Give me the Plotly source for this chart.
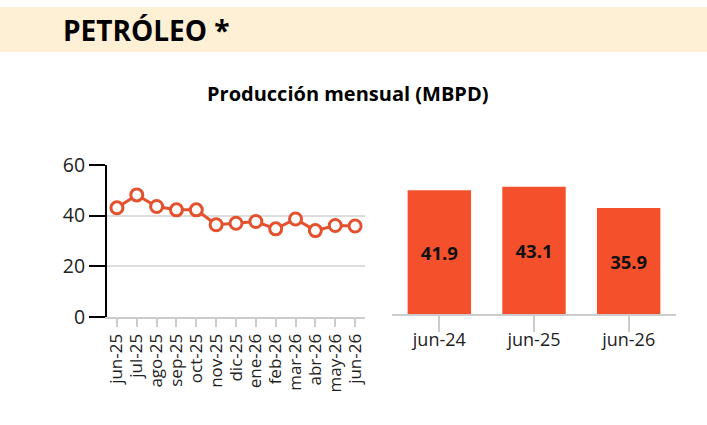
import plotly.graph_objects as go

W, H = 707, 425

months = ["jun-25", "jul-25", "ago-25", "sep-25", "oct-25", "nov-25", "dic-25",
          "ene-26", "feb-26", "mar-26", "abr-26", "may-26", "jun-26"]
monthly = [43.1, 48.2, 43.6, 42.3, 42.3, 36.4, 37.0, 37.7, 34.8, 38.7, 34.1, 36.1, 35.9]

years = ["jun-24", "jun-25", "jun-26"]
yearly = [41.9, 43.1, 35.9]

LINE_COLOR = "#E4512E"
BAR_COLOR = "#F4502B"
FONT = "Open Sans"

def px_x(p):
    return p / W

def px_y(p):
    return (H - p) / H

fig = go.Figure()

fig.add_trace(go.Scatter(
    x=months, y=monthly, mode="lines+markers",
    line=dict(color=LINE_COLOR, width=3),
    marker=dict(size=12, color="white", line=dict(color=LINE_COLOR, width=3)),
    xaxis="x", yaxis="y", showlegend=False, hoverinfo="skip",
))

fig.add_trace(go.Bar(
    x=years, y=yearly, marker=dict(color=BAR_COLOR, line=dict(width=0)),
    text=[f"{v:.1f}" for v in yearly], textposition="inside",
    insidetextanchor="middle",
    textfont=dict(family=FONT, size=18.5, color="#111111", weight="bold"),
    width=0.67, xaxis="x2", yaxis="y2", showlegend=False, hoverinfo="skip",
))

fig.update_layout(
    template="none",
    width=W, height=H, autosize=False,
    margin=dict(l=0, r=0, t=0, b=0, pad=0),
    paper_bgcolor="white", plot_bgcolor="white",
    font=dict(family=FONT, color="#222222"),
    xaxis=dict(
        domain=[px_x(107), px_x(365)], anchor="y", automargin=False,
        type="category", range=[-0.5, 12.5],
        tickmode="array", tickvals=months, ticktext=months,
        showline=True, linecolor="#cccccc", linewidth=2,
        ticks="outside", ticklen=8, tickcolor="#cccccc", tickwidth=2,
        tickangle=-90, tickfont=dict(size=17, color="#222222"),
        showgrid=False, zeroline=False,
    ),
    yaxis=dict(
        domain=[px_y(317), px_y(165)], anchor="x", automargin=False,
        range=[0, 60], dtick=20,
        showline=True, linecolor="#000000", linewidth=2,
        ticks="outside", ticklen=16, tickcolor="#000000", tickwidth=2,
        tickfont=dict(size=19.5, color="#222222"),
        showgrid=True, gridcolor="#dddddd", gridwidth=2, zeroline=False,
    ),
    xaxis2=dict(
        domain=[px_x(392), px_x(676)], anchor="y2", automargin=False,
        type="category", range=[-0.5, 2.5],
        showline=True, linecolor="#cccccc", linewidth=2,
        ticks="outside", ticklen=16, tickcolor="#cccccc", tickwidth=2,
        ticklabelstandoff=-8,
        tickfont=dict(size=18, color="#222222"),
        showgrid=False, zeroline=False,
    ),
    yaxis2=dict(
        domain=[px_y(314), px_y(165)], anchor="x2", automargin=False,
        range=[0, 50.5], visible=False, showgrid=False, zeroline=False,
    ),
    shapes=[dict(
        type="rect", xref="paper", yref="paper",
        x0=0, x1=1, y0=px_y(52), y1=px_y(7),
        fillcolor="#FDF0D5", line=dict(width=0), layer="below",
    )],
    annotations=[
        dict(text="<b>PETRÓLEO *</b>", xref="paper", yref="paper",
             x=px_x(61), y=px_y(30), xanchor="left", yanchor="middle",
             showarrow=False, font=dict(family=FONT, size=28, color="#000000")),
        dict(text="<b>Producción mensual (MBPD)</b>", xref="paper", yref="paper",
             x=px_x(347.5), y=px_y(93), xanchor="center", yanchor="middle",
             showarrow=False, font=dict(family=FONT, size=20, color="#000000")),
    ],
)

fig.write_html("out.html")
